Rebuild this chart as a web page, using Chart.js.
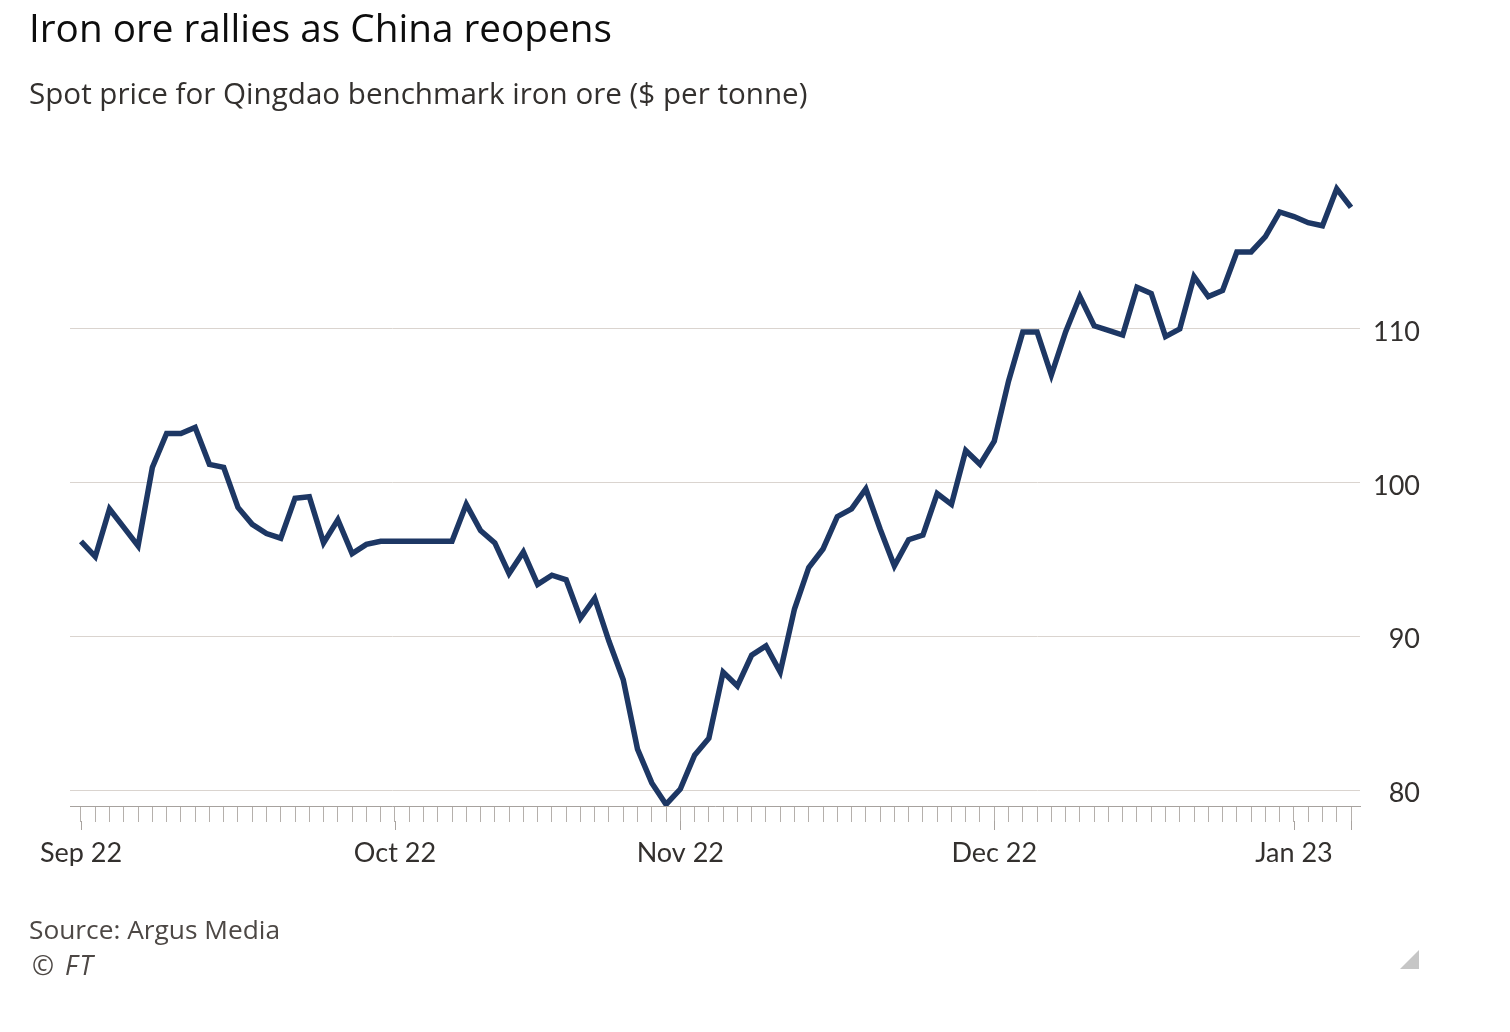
<!DOCTYPE html>
<html><head><meta charset="utf-8">
<script src="https://cdn.jsdelivr.net/npm/chart.js@4/dist/chart.umd.min.js"></script>
<style>
html,body{margin:0;padding:0;background:#fff;width:1510px;height:1032px;overflow:hidden;font-family:"Open Sans",sans-serif}
#wrap{position:absolute;left:0;top:0;width:1510px;height:1032px}
.t{position:absolute;white-space:nowrap;line-height:1}
#tri{position:absolute;left:1400px;top:950px;width:0;height:0;border-left:19px solid transparent;border-bottom:19px solid #c6c6c6}
</style></head><body>
<div id="wrap"><canvas id="c" width="1510" height="1032"></canvas></div>
<div class="t" style="left:29px;top:8px;font-size:38.7px;color:#0d0d0d">Iron ore rallies as China reopens</div>
<div class="t" style="left:29px;top:78px;font-size:29.6px;color:#33302e">Spot price for Qingdao benchmark iron ore ($ per tonne)</div>
<div class="t" style="left:29px;top:916px;font-size:26.3px;color:#4d4845">Source: Argus Media</div>
<div class="t" style="left:32px;top:952px;font-size:26.5px;color:#4d4845;font-style:italic;letter-spacing:2px">© FT</div>
<div id="tri"></div>
<script>
const prices = [96.2,95.2,98.3,97.1,95.9,101.0,103.2,103.2,103.6,101.2,
101.0,98.4,97.3,96.7,96.4,99.0,99.1,96.1,97.6,95.4,
96.0,96.2,96.2,96.2,96.2,96.2,96.2,98.6,96.9,96.1,
94.1,95.5,93.4,94.0,93.7,91.2,92.5,89.7,87.2,82.7,
80.5,79.1,80.1,82.3,83.4,87.7,86.8,88.8,89.4,87.7,
91.8,94.5,95.7,97.8,98.3,99.6,97.0,94.6,96.3,96.6,
99.3,98.6,102.1,101.2,102.7,106.6,109.8,109.8,107.0,109.8,
112.1,110.2,109.9,109.6,112.7,112.3,109.5,110.0,113.4,112.1,
112.5,115.0,115.0,116.0,117.6,117.3,116.9,116.7,119.1,117.9];
const monthLabels = ['Sep 22','Oct 22','Nov 22','Dec 22','Jan 23'];
const monthStartIdx = [0,22,42,64,85];
const yTicks = [80,90,100,110];

const majorTicks = {
  id:'majorTicks',
  afterDraw(chart){
    const xs = chart.scales.x, ctx = chart.ctx;
    const y0 = chart.chartArea.bottom;
    ctx.save(); ctx.strokeStyle='#a9a4a0'; ctx.lineWidth=1;
    monthStartIdx.concat([prices.length-1]).forEach(i=>{
      const px = Math.round(xs.getPixelForValue(i))+0.5;
      ctx.beginPath(); ctx.moveTo(px,y0+15); ctx.lineTo(px,y0+24); ctx.stroke();
    });
    ctx.restore();
  }
};

new Chart(document.getElementById('c'), {
  type:'line',
  data:{datasets:[{data: prices.map((v,i)=>({x:i,y:v})), borderColor:'#1d3764', borderWidth:5.5,
    pointRadius:0, tension:0, fill:false, borderJoinStyle:'miter'}]},
  options:{
    responsive:false, animation:false,
    layout:{padding:{top:175,left:70,right:90,bottom:166}},
    plugins:{legend:{display:false},tooltip:{enabled:false}},
    scales:{
      x:{type:'linear', min:-0.77, max:89.63,
        afterBuildTicks(s){ s.ticks = prices.map((_,i)=>({value:i})); },
        afterFit(s){ s.height = 60; },
        grid:{drawOnChartArea:false, drawTicks:true, tickLength:16, color:'#b5b0ac', lineWidth:1},
        border:{display:true,color:'#a7a29e',width:1},
        ticks:{autoSkip:false, maxRotation:0, padding:15, font:{family:'Lato',size:27}, color:'#33302e',
          callback:(v)=>{const k=monthStartIdx.indexOf(v); return k>=0?monthLabels[k]:'';}}
      },
      y:{position:'right', min:79, max:120,
        afterBuildTicks(s){ s.ticks = yTicks.map(v=>({value:v})); },
        afterFit(s){ s.width = 60; },
        grid:{drawTicks:false, color:'#dad4cf'},
        border:{display:false},
        ticks:{padding:10, crossAlign:'far', labelOffset:3, font:{family:'Lato',size:27}, color:'#33302e'}
      }
    }
  },
  plugins:[majorTicks]
});
</script>
</body></html>
